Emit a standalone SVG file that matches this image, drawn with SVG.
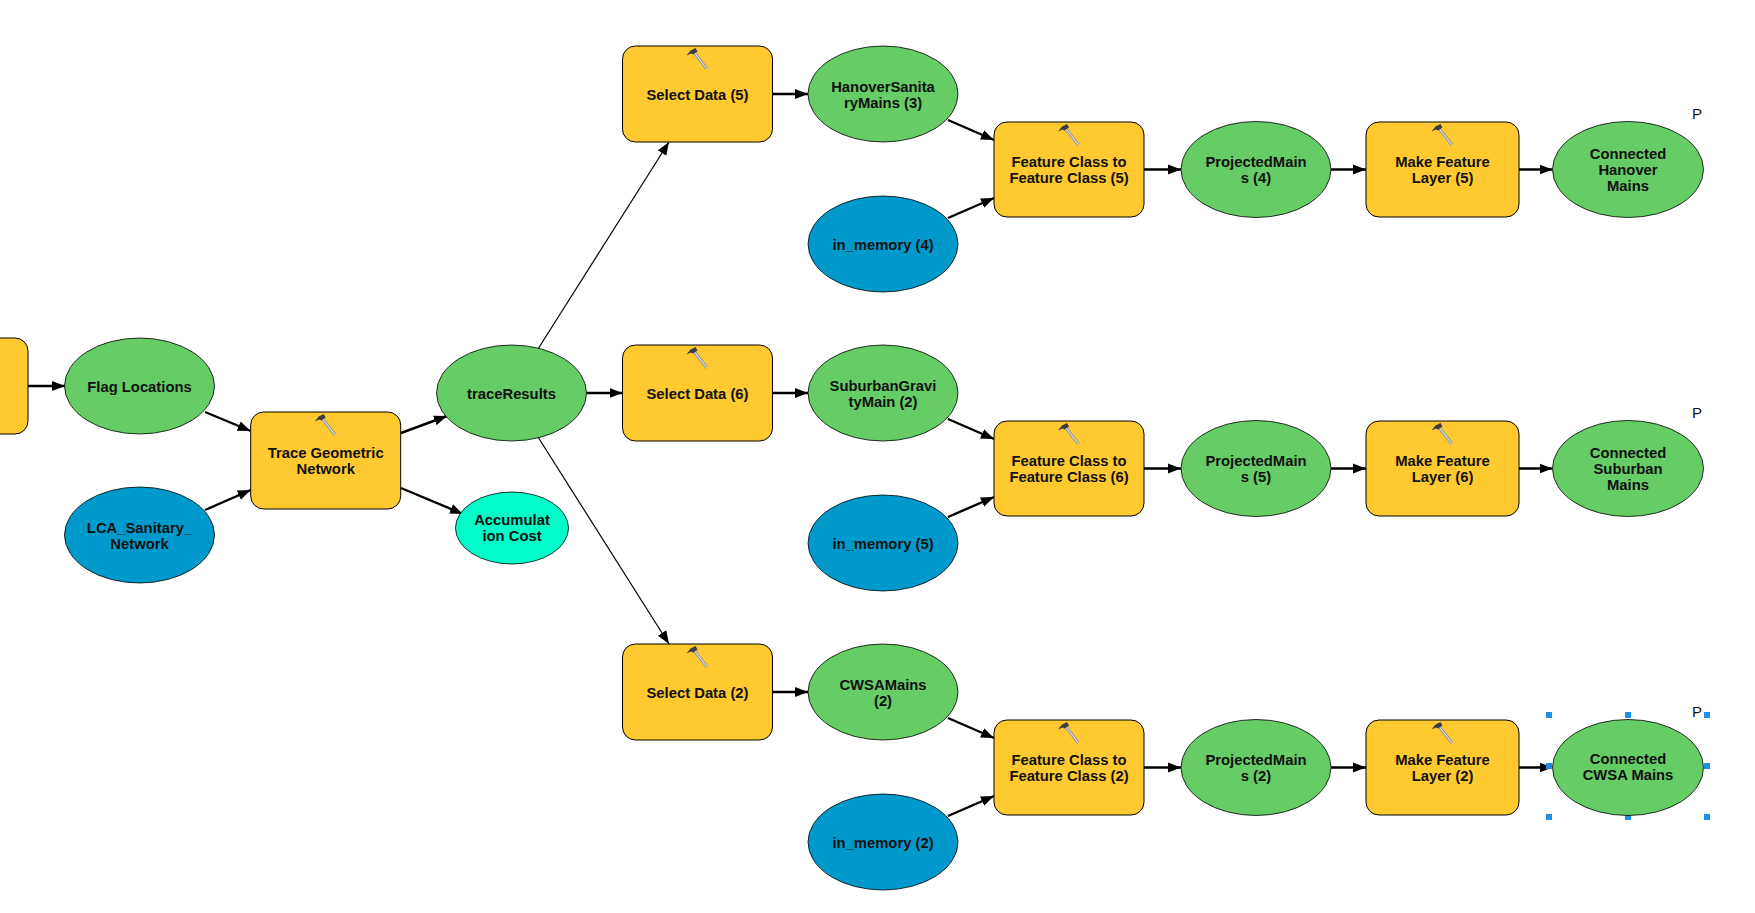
<svg xmlns="http://www.w3.org/2000/svg" xmlns:xlink="http://www.w3.org/1999/xlink" width="1755" height="913" viewBox="0 0 1755 913">
<style>
.tool{fill:#ffc92f;stroke:#000;stroke-width:1}
.out{fill:#66cc66;stroke:#000;stroke-width:.8}
.inp{fill:#0099cc;stroke:#000;stroke-width:.8}
.acc{fill:#00fcc8;stroke:#000;stroke-width:.8}
text{font-family:"Liberation Sans",Arial,sans-serif;font-weight:bold;font-size:14.800px;fill:#111;text-anchor:middle;transform:translateY(.5px)}
text.p{font-weight:normal;font-size:15px}
.c{stroke:#000;stroke-width:2.400;fill:none;marker-end:url(#a)}
.t{stroke:#000;stroke-width:1.200;fill:none;marker-end:url(#a)}
.h{fill:#1e90e6}
</style>
<defs>
<marker id="a" markerUnits="userSpaceOnUse" markerWidth="14" markerHeight="11" refX="13" refY="5.500" orient="auto"><path d="M0 .5L13 5.500L0 10.500z" fill="#000"/></marker>
<g id="hammer">
<path d="M-4.500 5L9.500 23" stroke="#9a9a9a" stroke-width="3" fill="none"/>
<path d="M-4.500 5L9.500 23" stroke="#ececec" stroke-width="1" fill="none"/>
<path d="M-11 9.500L-7 4.500L-2 2L0 5.500L-4.500 8.500L-6.500 7.500z" fill="#3c3c44"/>
</g>
</defs>
<rect width="1755" height="913" fill="#fff"/>
<g id="connectors">
<path class="c" d="M28 386H65"/>
<path class="c" d="M205 412L250.700 431"/>
<path class="c" d="M205 510L250.700 490"/>
<path class="c" d="M401 433L447 416"/>
<path class="c" d="M401 488L463 514"/>
<path class="t" d="M538 349L669 142"/>
<path class="c" d="M586.500 393H622.500"/>
<path class="t" d="M538 437L669 644"/>
<path class="c" d="M772.500 94H808"/>
<path class="c" d="M948 120L994 140"/>
<path class="c" d="M948 218L994 198"/>
<path class="c" d="M1144 169.500H1181"/>
<path class="c" d="M1331 169.500H1366"/>
<path class="c" d="M1519 169.500H1552.500"/>
<path class="c" d="M772.500 393H808"/>
<path class="c" d="M948 419L994 439"/>
<path class="c" d="M948 517L994 497"/>
<path class="c" d="M1144 468.500H1181"/>
<path class="c" d="M1331 468.500H1366"/>
<path class="c" d="M1519 468.500H1552.500"/>
<path class="c" d="M772.500 692H808"/>
<path class="c" d="M948 718L994 738"/>
<path class="c" d="M948 816L994 796"/>
<path class="c" d="M1144 767.500H1181"/>
<path class="c" d="M1331 767.500H1366"/>
<path class="c" d="M1519 767.500H1552.500"/>
</g>
<g id="stub"><rect class="tool" x="-30" y="338" width="58" height="96" rx="13"/></g>
<g id="flag"><ellipse class="out" cx="139.500" cy="386" rx="75" ry="48"/><text x="139.500" y="391">Flag Locations</text></g>
<g id="lca"><ellipse class="inp" cx="139.500" cy="535" rx="75" ry="48"/><text x="139.500" y="532">LCA_Sanitary_</text><text x="139.500" y="548">Network</text></g>
<g id="trace"><rect class="tool" x="250.700" y="412" width="150" height="97" rx="13"/><use xlink:href="#hammer" href="#hammer" x="325.700" y="412"/><text x="325.700" y="457">Trace Geometric</text><text x="325.700" y="473">Network</text></g>
<g id="traceResults"><ellipse class="out" cx="511.500" cy="393" rx="75" ry="48"/><text x="511.500" y="398">traceResults</text></g>
<g id="accum"><ellipse class="acc" cx="512" cy="528" rx="56.500" ry="36"/><text x="512" y="524">Accumulat</text><text x="512" y="540">ion Cost</text></g>

<g id="select5"><rect class="tool" x="622.500" y="46" width="150" height="96" rx="13"/><use xlink:href="#hammer" href="#hammer" x="697.500" y="46"/><text x="697.500" y="99">Select Data (5)</text></g>
<g id="hanover"><ellipse class="out" cx="883" cy="94" rx="75" ry="48"/><text x="883" y="91">HanoverSanita</text><text x="883" y="107">ryMains (3)</text></g>
<g id="mem4"><ellipse class="inp" cx="883" cy="244" rx="75" ry="48"/><text x="883" y="249">in_memory (4)</text></g>
<g id="fc5"><rect class="tool" x="994" y="122" width="150" height="95" rx="13"/><use xlink:href="#hammer" href="#hammer" x="1069" y="122"/><text x="1069" y="166">Feature Class to</text><text x="1069" y="182">Feature Class (5)</text></g>
<g id="proj4"><ellipse class="out" cx="1256" cy="169.500" rx="75" ry="48"/><text x="1256" y="166">ProjectedMain</text><text x="1256" y="182">s (4)</text></g>
<g id="make5"><rect class="tool" x="1366" y="122" width="153" height="95" rx="13"/><use xlink:href="#hammer" href="#hammer" x="1442.500" y="122"/><text x="1442.500" y="166">Make Feature</text><text x="1442.500" y="182">Layer (5)</text></g>
<g id="conn1"><ellipse class="out" cx="1628" cy="169.500" rx="75.500" ry="48"/><text x="1628" y="158">Connected</text><text x="1628" y="174">Hanover</text><text x="1628" y="190">Mains</text><text class="p" x="1697" y="118">P</text></g>

<g id="select6"><rect class="tool" x="622.500" y="345" width="150" height="96" rx="13"/><use xlink:href="#hammer" href="#hammer" x="697.500" y="345"/><text x="697.500" y="398">Select Data (6)</text></g>
<g id="suburban"><ellipse class="out" cx="883" cy="393" rx="75" ry="48"/><text x="883" y="390">SuburbanGravi</text><text x="883" y="406">tyMain (2)</text></g>
<g id="mem5"><ellipse class="inp" cx="883" cy="543" rx="75" ry="48"/><text x="883" y="548">in_memory (5)</text></g>
<g id="fc6"><rect class="tool" x="994" y="421" width="150" height="95" rx="13"/><use xlink:href="#hammer" href="#hammer" x="1069" y="421"/><text x="1069" y="465">Feature Class to</text><text x="1069" y="481">Feature Class (6)</text></g>
<g id="proj5"><ellipse class="out" cx="1256" cy="468.500" rx="75" ry="48"/><text x="1256" y="465">ProjectedMain</text><text x="1256" y="481">s (5)</text></g>
<g id="make6"><rect class="tool" x="1366" y="421" width="153" height="95" rx="13"/><use xlink:href="#hammer" href="#hammer" x="1442.500" y="421"/><text x="1442.500" y="465">Make Feature</text><text x="1442.500" y="481">Layer (6)</text></g>
<g id="conn2"><ellipse class="out" cx="1628" cy="468.500" rx="75.500" ry="48"/><text x="1628" y="457">Connected</text><text x="1628" y="473">Suburban</text><text x="1628" y="489">Mains</text><text class="p" x="1697" y="417">P</text></g>

<g id="select2"><rect class="tool" x="622.500" y="644" width="150" height="96" rx="13"/><use xlink:href="#hammer" href="#hammer" x="697.500" y="644"/><text x="697.500" y="697">Select Data (2)</text></g>
<g id="cwsa"><ellipse class="out" cx="883" cy="692" rx="75" ry="48"/><text x="883" y="689">CWSAMains</text><text x="883" y="705">(2)</text></g>
<g id="mem2"><ellipse class="inp" cx="883" cy="842" rx="75" ry="48"/><text x="883" y="847">in_memory (2)</text></g>
<g id="fc2"><rect class="tool" x="994" y="720" width="150" height="95" rx="13"/><use xlink:href="#hammer" href="#hammer" x="1069" y="720"/><text x="1069" y="764">Feature Class to</text><text x="1069" y="780">Feature Class (2)</text></g>
<g id="proj2"><ellipse class="out" cx="1256" cy="767.500" rx="75" ry="48"/><text x="1256" y="764">ProjectedMain</text><text x="1256" y="780">s (2)</text></g>
<g id="make2"><rect class="tool" x="1366" y="720" width="153" height="95" rx="13"/><use xlink:href="#hammer" href="#hammer" x="1442.500" y="720"/><text x="1442.500" y="764">Make Feature</text><text x="1442.500" y="780">Layer (2)</text></g>
<g id="conn3">
<rect class="h" x="1546" y="712" width="6" height="6"/><rect class="h" x="1625" y="712" width="6" height="6"/><rect class="h" x="1704" y="712" width="6" height="6"/>
<rect class="h" x="1546" y="763" width="6" height="6"/><rect class="h" x="1704" y="763" width="6" height="6"/>
<rect class="h" x="1546" y="814" width="6" height="6"/><rect class="h" x="1625" y="814" width="6" height="6"/><rect class="h" x="1704" y="814" width="6" height="6"/>
<ellipse class="out" cx="1628" cy="767.500" rx="75.500" ry="48"/><text x="1628" y="763">Connected</text><text x="1628" y="779">CWSA Mains</text><text class="p" x="1697" y="716">P</text></g>
</svg>
